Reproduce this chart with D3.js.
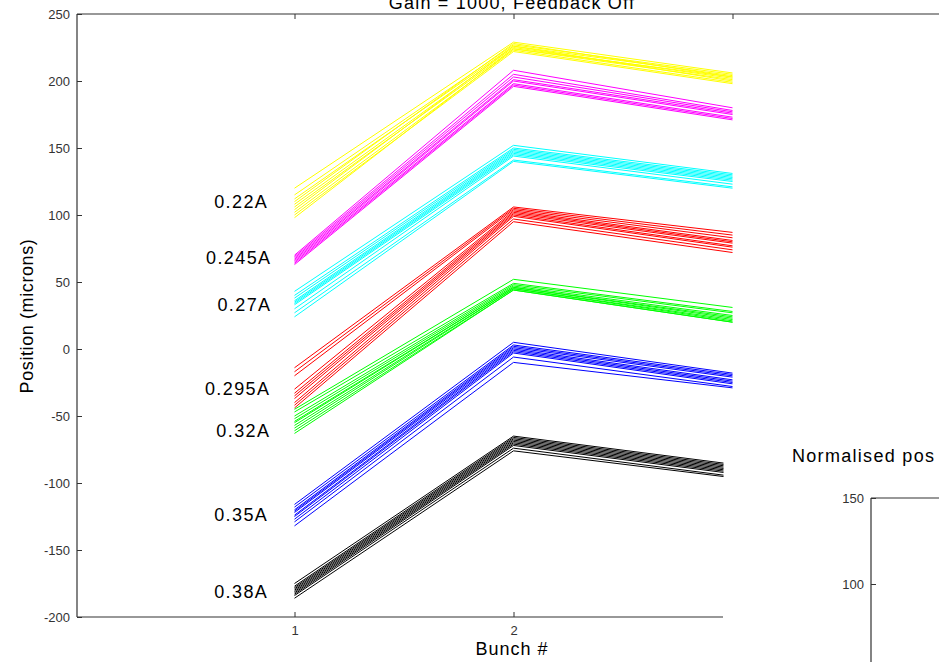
<!DOCTYPE html>
<html><head><meta charset="utf-8">
<script src="https://cdn.jsdelivr.net/npm/d3@7"></script>
<style>
body{margin:0;background:#fff;}
text{font-family:Arial,"Liberation Sans",sans-serif;}
</style></head>
<body><svg id="c" width="939" height="662"></svg>
<script>
const bunches = [1, 2, 3];
const currents = ["0.22A","0.245A","0.27A","0.295A","0.32A","0.35A","0.38A"];
const colors = ["#ffff00","#ff00ff","#00ffff","#ff0000","#00ff00","#0000ff","#000000"];
const yTicks = [250,200,150,100,50,0,-50,-100,-150,-200];
const xTicks = [1,2,3];
const labelY = [110, 68, 33, -30, -61, -124, -181];
const labelX = [0.88, 0.895, 0.895, 0.89, 0.89, 0.88, 0.88];
// per group: values at bunch 1, 2, 3 for each shot
const g022 = {b1:[120,115,112,110,108,106,104,102,100,98], b2:[229,227,226,228,225,224,226,223,222,224], b3:[206,205,204,203,202,201,200,199,198,203]};
const g0245 = {b1:[70,69,68,67,66,65,64,63], b2:[208,205,203,201,200,198,197,196], b3:[180,178,177,176,175,173,172,171]};
const g027 = {b1:[43,40,38,36,35,34,33,30,27,24], b2:[152,150,149,148,147,146,145,144,141,140], b3:[131,130,129,128,127,126,125,123,121,120]};
const g0295 = {b1:[-14,-17,-20,-30,-33,-35,-37,-40,-42,-44], b2:[106,105,104,103,102,101,100,99,97,95], b3:[87,85,83,81,80,79,77,76,74,72]};
const g032 = {b1:[-45,-47,-50,-52,-54,-55,-57,-59,-61,-63], b2:[52,49,48,47,46,46,45,45,44,44], b3:[31,28,27,25,24,23,22,21,20,20]};
const g035 = {b1:[-116,-118,-120,-121,-122,-124,-125,-127,-129,-132], b2:[5,3,2,1,0,-1,-2,-3,-6,-10], b3:[-18,-19,-20,-21,-23,-24,-25,-26,-28,-29]};
const g038 = {b1:[-175,-177,-178,-179,-180,-181,-182,-183,-184,-186], b2:[-65,-66,-67,-68,-69,-70,-71,-72,-74,-76], b3:[-86,-87,-88,-89,-90,-91,-92,-93,-95,-96]};
const groups = [g022,g0245,g027,g0295,g032,g035,g038];
const normTicks = [150, 100];

(function(){
const svg = d3.select("#c");
const pLeft = 77, pTop = 14, pBottom = 617;
const x = d3.scaleLinear().domain([1,2]).range([294.5,513.5]);
const y = d3.scaleLinear().domain([-200,250]).range([pBottom, pTop]);
const axisCol = "#333";
const fmt = d => String(d);

svg.append("clipPath").attr("id","clip").append("rect").attr("x",pLeft).attr("y",pTop).attr("width",939-pLeft).attr("height",pBottom-pTop);

// lines
const line = d3.line().x(d=>x(d[0])).y(d=>y(d[1]));
const plot = svg.append("g").attr("clip-path","url(#clip)");
groups.forEach((g,gi)=>{
  g.b1.forEach((v,i)=>{
    const pts = bunches.map((b,k)=>[b,[g.b1,g.b2,g.b3][k][i]]);
    plot.append("path").attr("d",line(pts)).attr("fill","none").attr("stroke",colors[gi]).attr("stroke-width",1);
  });
});

// current labels
svg.append("g").selectAll("text").data(currents).join("text")
  .attr("x",(d,i)=>x(labelX[i])).attr("y",(d,i)=>y(labelY[i])+6)
  .attr("text-anchor","end").attr("font-size",18).attr("letter-spacing",1.4).attr("fill","#000").text(d=>d);

// axes
const yAxis = d3.axisLeft(y).tickValues(yTicks).tickSize(-5).tickPadding(7).tickFormat(fmt);
const ya = svg.append("g").attr("transform",`translate(${pLeft},0)`).call(yAxis);
const xAxisB = d3.axisBottom(x).tickValues(xTicks.slice(0,2)).tickSize(-5).tickPadding(9).tickFormat(fmt);
const xb = svg.append("g").attr("transform",`translate(0,${pBottom})`).call(xAxisB);
xb.select(".domain").attr("d",`M${pLeft},0H723`);
const xAxisT = d3.axisTop(x).tickValues(xTicks).tickSize(-5).tickFormat("");
const xt = svg.append("g").attr("transform",`translate(0,${pTop})`).call(xAxisT);
xt.select(".domain").attr("d",`M${pLeft},0H939`);
ya.select(".domain").attr("d",`M0,${pTop}V${pBottom}`);
[ya,xb,xt].forEach(a=>{
  a.selectAll(".domain").attr("stroke",axisCol).attr("stroke-width",1.2);
  a.selectAll(".tick line").attr("stroke",axisCol);
  a.selectAll(".tick text").attr("font-size",13).attr("fill","#333").attr("font-family","Arial");
});

// titles
svg.append("text").attr("x",512).attr("y",9).attr("text-anchor","middle").attr("font-size",18).attr("letter-spacing",1.2).text("Gain = 1000, Feedback Off");
svg.append("text").attr("x",512).attr("y",655).attr("text-anchor","middle").attr("font-size",18).attr("letter-spacing",1).text("Bunch #");
svg.append("text").attr("transform","translate(33,316) rotate(-90)").attr("text-anchor","middle").attr("font-size",18).attr("letter-spacing",0.6).text("Position (microns)");

// second subplot (partially visible)
svg.append("rect").attr("x",723.5).attr("y",440).attr("width",220).attr("height",230).attr("fill","#fff");
svg.append("text").attr("x",792).attr("y",462).attr("font-size",18).attr("letter-spacing",1.3).text("Normalised pos");
const y2 = d3.scaleLinear().domain([100,150]).range([584,498]);
const ax2 = svg.append("g").attr("transform","translate(871,0)").call(d3.axisLeft(y2).tickValues(normTicks).tickSize(-5).tickPadding(7).tickFormat(fmt));
ax2.select(".domain").attr("d","M0,498V662M0,498H80");
ax2.selectAll(".domain").attr("stroke",axisCol).attr("stroke-width",1.2).attr("fill","none");
ax2.selectAll(".tick line").attr("stroke",axisCol);
ax2.selectAll(".tick text").attr("font-size",13).attr("fill","#333");
})();
</script></body></html>
